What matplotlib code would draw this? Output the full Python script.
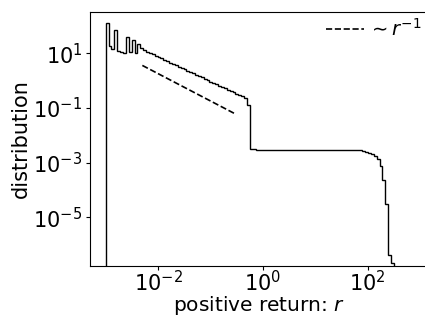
import numpy as np
from matplotlib import pyplot as plt
from matplotlib.ticker import NullLocator

# log-spaced histogram bins of positive returns
bin_edges = np.logspace(-3, 2.5, 101)

# density per bin
density = [
    126, 18.2, 14.5, 72, 11.7, 11.2, 10.7, 38, 11.2, 29.5,
    10.7, 21.4, 15.1, 13.2, 11.5, 10.2, 9.1, 8.15, 7.26, 6.48,
    5.78, 5.15, 4.59, 4.10, 3.66, 3.26, 2.91, 2.59, 2.31, 2.06,
    1.84, 1.64, 1.46, 1.31, 1.16, 1.04, 0.93, 0.83, 0.74, 0.66,
    0.59, 0.52, 0.47, 0.42, 0.37, 0.33, 0.295, 0.263, 0.234, 0.126,
    0.00305, 0.00303, 0.00302, 0.00302, 0.00302, 0.00302, 0.00302, 0.00302, 0.00302, 0.00302,
    0.00302, 0.00302, 0.00302, 0.00302, 0.00302, 0.00302, 0.00302, 0.00302, 0.00302, 0.00302,
    0.00302, 0.00302, 0.00302, 0.00301, 0.00301, 0.00301, 0.00301, 0.00300, 0.00300, 0.00300,
    0.00299, 0.00298, 0.00297, 0.00296, 0.00295, 0.00294, 0.00292, 0.00288, 0.00279, 0.00269,
    0.00251, 0.00229, 0.00204, 0.00178, 0.00138, 0.00078, 0.000234, 3.2e-5, 4.3e-7, 2.1e-7,
]

# reference power law ~ r^-1
guide_r = [0.005, 0.3]
guide_amp = 0.018

plt.rcParams['font.size'] = 15

fig = plt.figure(figsize=(4.25, 3.16), dpi=100)
ax = fig.add_axes([90/425, 50.3/316, 338/425, 253.4/316])

ax.stairs(density, bin_edges, color='black', linewidth=1.0)
r = np.array(guide_r)
ax.plot(r, guide_amp / r, 'k--', linewidth=1.2, label=r'$\sim r^{-1}$')

ax.set_xscale('log')
ax.set_yscale('log')
ax.set_xlim(10**-3.3, 10**3.15)
ax.set_ylim(10**-6.77, 10**2.5)
ax.set_xticks([1e-2, 1e0, 1e2])
ax.set_yticks([1e1, 1e-1, 1e-3, 1e-5])
ax.xaxis.set_minor_locator(NullLocator())
ax.yaxis.set_minor_locator(NullLocator())
ax.tick_params(length=3, pad=2.5)
ax.tick_params(axis='x', pad=0.3)

ax.set_xlabel('positive return: $r$', fontsize=14.5, labelpad=-0.8)
ax.set_ylabel('distribution', labelpad=2)
ax.legend(frameon=False, fontsize=14, loc='upper left',
          bbox_to_anchor=(0.674, 1.009), handletextpad=0.2,
          borderaxespad=0)

fig.savefig('out.png', dpi=100)
